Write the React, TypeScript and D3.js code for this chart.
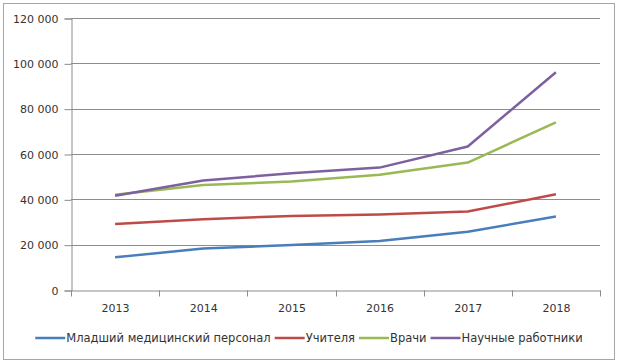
import React, { useEffect, useRef } from 'react';
import * as d3 from 'd3';

const years = ['2013', '2014', '2015', '2016', '2017', '2018'];
const seriesNames = ['Младший медицинский персонал', 'Учителя', 'Врачи', 'Научные работники'];
const seriesColors = ['#4a7ebb', '#be4b48', '#98b954', '#7d60a0'];
const juniorMedical = [14400, 18300, 19800, 21600, 25700, 32400];
const teachers = [29100, 31200, 32700, 33300, 34600, 42200];
const doctors = [42000, 46300, 47900, 50800, 56200, 74000];
const scientists = [41600, 48300, 51500, 54000, 63300, 96100];
const yTicks = [0, 20000, 40000, 60000, 80000, 100000, 120000];

const fmt = (v: number) => d3.format(',')(v).replace(/,/g, '\u00a0').replace('\u00a0', ' ');

function App() {
  const svgRef = useRef<SVGSVGElement>(null);

  useEffect(() => {
    const svg = d3.select(svgRef.current);
    svg.selectAll('*').remove();

    const width = 620;
    const height = 364;
    const margin = { top: 18, right: 20, bottom: 74, left: 71 };
    const font = 'DejaVu Sans, sans-serif';

    svg.attr('width', width).attr('height', height);

    svg.append('rect')
      .attr('x', 3.5).attr('y', 3.5)
      .attr('width', 611).attr('height', 356)
      .attr('fill', '#fff')
      .attr('stroke', '#a6a6a6');

    const x = d3.scaleBand().domain(years).range([margin.left, width - margin.right]);
    const y = d3.scaleLinear().domain([0, 120000]).range([height - margin.bottom, margin.top]);

    const grid = svg.append('g');
    grid.selectAll('line')
      .data(yTicks.slice(1))
      .enter()
      .append('line')
      .attr('x1', margin.left).attr('x2', width - margin.right)
      .attr('y1', d => Math.round(y(d)) + 0.5).attr('y2', d => Math.round(y(d)) + 0.5)
      .attr('stroke', '#8c8c8c');

    const yAxis = svg.append('g')
      .attr('transform', `translate(${margin.left + 0.5},0.5)`)
      .call(d3.axisLeft(y).tickValues(yTicks).tickSize(7).tickPadding(6).tickFormat(d => fmt(+d)));
    const xAxis = svg.append('g')
      .attr('transform', `translate(0.5,${Math.round(y(0)) + 0.5})`)
      .call(d3.axisBottom(x).tickSize(0).tickPadding(14));

    // band edge ticks
    const edges = years.map(d => x(d) as number).concat([width - margin.right]);
    xAxis.selectAll('.edge')
      .data(edges)
      .enter()
      .append('line')
      .attr('x1', d => Math.round(d)).attr('x2', d => Math.round(d))
      .attr('y1', 0).attr('y2', 6)
      .attr('stroke', '#8c8c8c');

    [yAxis, xAxis].forEach(a => {
      a.select('.domain').attr('stroke', '#8c8c8c');
      a.selectAll('.tick line').attr('stroke', '#8c8c8c');
      a.selectAll('text').attr('font-family', font).attr('font-size', 11).attr('fill', '#333');
    });

    const data = [juniorMedical, teachers, doctors, scientists];
    const line = d3.line<number>()
      .x((_, i) => (x(years[i]) as number) + x.bandwidth() / 2)
      .y(d => y(d));

    svg.append('g')
      .selectAll('path')
      .data(data)
      .enter()
      .append('path')
      .attr('d', d => line(d))
      .attr('fill', 'none')
      .attr('stroke', (_, i) => seriesColors[i])
      .attr('stroke-width', 2.5)
      .attr('stroke-linejoin', 'round');

    // legend
    const legend = svg.append('g').attr('transform', 'translate(0,338)');
    let cx = 0;
    seriesNames.forEach((name, i) => {
      const item = legend.append('g').attr('transform', `translate(${cx},0)`);
      item.append('line')
        .attr('x1', 0).attr('x2', 30)
        .attr('stroke', seriesColors[i]).attr('stroke-width', 2.5);
      const t = item.append('text')
        .attr('x', 31).attr('dy', '0.35em')
        .attr('font-family', font).attr('font-size', 11.5)
        .attr('fill', '#333')
        .text(name);
      const w = (t.node() as SVGTextElement).getComputedTextLength();
      cx += 31 + w + 4;
    });
    const total = cx - 4;
    legend.attr('transform', `translate(${(width - total) / 2 - 1},338)`);
  }, []);

  return <svg ref={svgRef} style={{ display: 'block', position: 'absolute', left: 0, top: 0 }}></svg>;
}

export default App;
